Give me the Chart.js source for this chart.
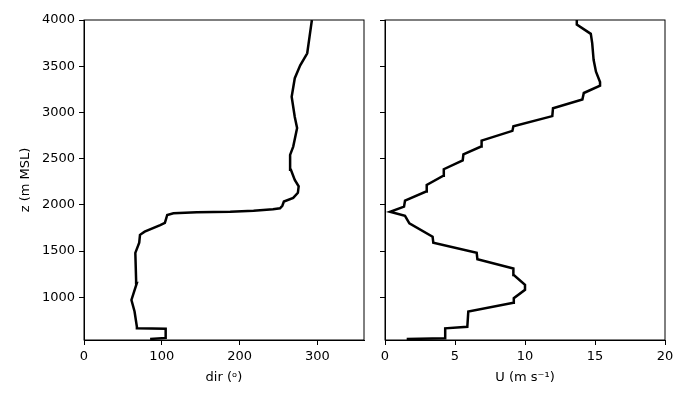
<!DOCTYPE html>
<html>
<head>
<meta charset="UTF-8" />
<title>Profiles</title>
<style type="text/css">
    body { margin: 0; background: #fff; }
    .box { position: absolute; top: 0; height: 400px; }
    #leftBox { left: 0; width: 370px; }
    #rightBox { left: 370px; width: 330px; }
</style>
</head>
<body>
<div class="box" id="leftBox"><canvas id="dirChart" width="370" height="400"></canvas></div>
<div class="box" id="rightBox"><canvas id="uChart" width="330" height="400"></canvas></div>

<script src="https://cdn.jsdelivr.net/npm/chart.js"></script>
<script>
// wind direction profile
const zDir = [548, 560, 660, 665, 680, 845, 970, 1155, 1187, 1480, 1590, 1675, 1710, 1780, 1805, 1890,
    1908, 1919, 1926, 1937, 1952, 1963, 1990, 2035, 2075, 2130, 2200, 2270, 2380, 2540, 2630, 2830,
    2950, 3170, 3370, 3510, 3640, 3820, 4000];
const dir = [85, 105, 105, 68, 68, 65, 61, 68, 67, 66, 71, 72, 78, 98, 104, 107,
    115, 145, 188, 218, 243, 252, 255, 257, 269, 275, 276, 271, 266, 265, 269, 274,
    271, 267, 271, 278, 287, 290, 293];

// wind speed profile
const zU = [548, 555, 663, 680, 845, 940, 990, 1080, 1135, 1240, 1310, 1410, 1480, 1590, 1655, 1800,
    1880, 1925, 1980, 2045, 2143, 2215, 2315, 2385, 2480, 2545, 2630, 2695, 2800, 2850, 2960, 3045,
    3140, 3210, 3290, 3330, 3440, 3570, 3750, 3850, 3950, 4000];
const speed = [1.55, 4.3, 4.3, 5.88, 5.95, 9.17, 9.2, 10.0, 10.0, 9.2, 9.17, 6.6, 6.55, 3.45, 3.4, 1.74,
    1.43, 0.36, 1.36, 1.43, 2.93, 2.98, 4.17, 4.2, 5.55, 5.6, 6.86, 6.9, 9.1, 9.17, 11.95, 12.0,
    14.1, 14.2, 15.36, 15.36, 15.07, 14.9, 14.8, 14.7, 13.7, 13.7];

const zTicks = [1000, 1500, 2000, 2500, 3000, 3500, 4000];
const dirTicks = [0, 100, 200, 300];
const uTicks = [0, 5, 10, 15, 20];
const zMin = 537, zMax = 4000;

Chart.defaults.font.family = "'DejaVu Sans'";
Chart.defaults.font.size = 13;
Chart.defaults.color = '#000';

// box around plot area, like matplotlib spines
const frame = {
    id: 'frame',
    afterDraw(chart) {
        const a = chart.chartArea, ctx = chart.ctx;
        ctx.save();
        ctx.strokeStyle = '#000';
        ctx.lineWidth = 1;
        ctx.strokeRect(a.left, a.top, a.right - a.left, a.bottom - a.top);
        ctx.restore();
    }
};

function toPoints(xs, zs) {
    return xs.map((v, i) => ({ x: v, y: zs[i] }));
}

function makeChart(id, xs, zs, xMax, xTicks, xTitle, showY, yWidth, padRight) {
    return new Chart(document.getElementById(id), {
        type: 'scatter',
        data: {
            datasets: [{
                data: toPoints(xs, zs),
                showLine: true,
                borderColor: '#000',
                borderWidth: 2.5,
                pointRadius: 0,
                tension: 0
            }]
        },
        options: {
            responsive: false,
            animation: false,
            layout: { padding: { top: 20, right: padRight, bottom: 0, left: 0 } },
            plugins: { legend: { display: false }, tooltip: { enabled: false } },
            scales: {
                x: {
                    type: 'linear',
                    min: 0,
                    max: xMax,
                    afterBuildTicks: s => { s.ticks = xTicks.map(v => ({ value: v })); },
                    afterFit: s => { s.height = 60; },
                    grid: { display: true, drawOnChartArea: false, drawTicks: true, tickLength: 5, color: '#000' },
                    border: { display: true, color: '#000' },
                    ticks: { padding: 4, maxRotation: 0, callback: v => String(v) },
                    title: { display: true, text: xTitle, padding: { top: 0, bottom: 15 } }
                },
                y: {
                    type: 'linear',
                    min: zMin,
                    max: zMax,
                    afterBuildTicks: s => { s.ticks = zTicks.map(v => ({ value: v })); },
                    afterFit: s => { s.width = yWidth; },
                    grid: { display: true, drawOnChartArea: false, drawTicks: true, tickLength: 5, color: '#000' },
                    border: { display: true, color: '#000' },
                    ticks: { display: showY, padding: 4, callback: v => String(v) },
                    title: { display: showY, text: 'z (m MSL)', padding: { top: 18, bottom: 0 } }
                }
            }
        },
        plugins: [frame]
    });
}

const dirChart = makeChart('dirChart', dir, zDir, 360, dirTicks, 'dir (\u1d52)', true, 84, 6);
const uChart = makeChart('uChart', speed, zU, 20, uTicks, 'U (m s\u207b\u00b9)', false, 15, 35);
</script>
</body>
</html>
